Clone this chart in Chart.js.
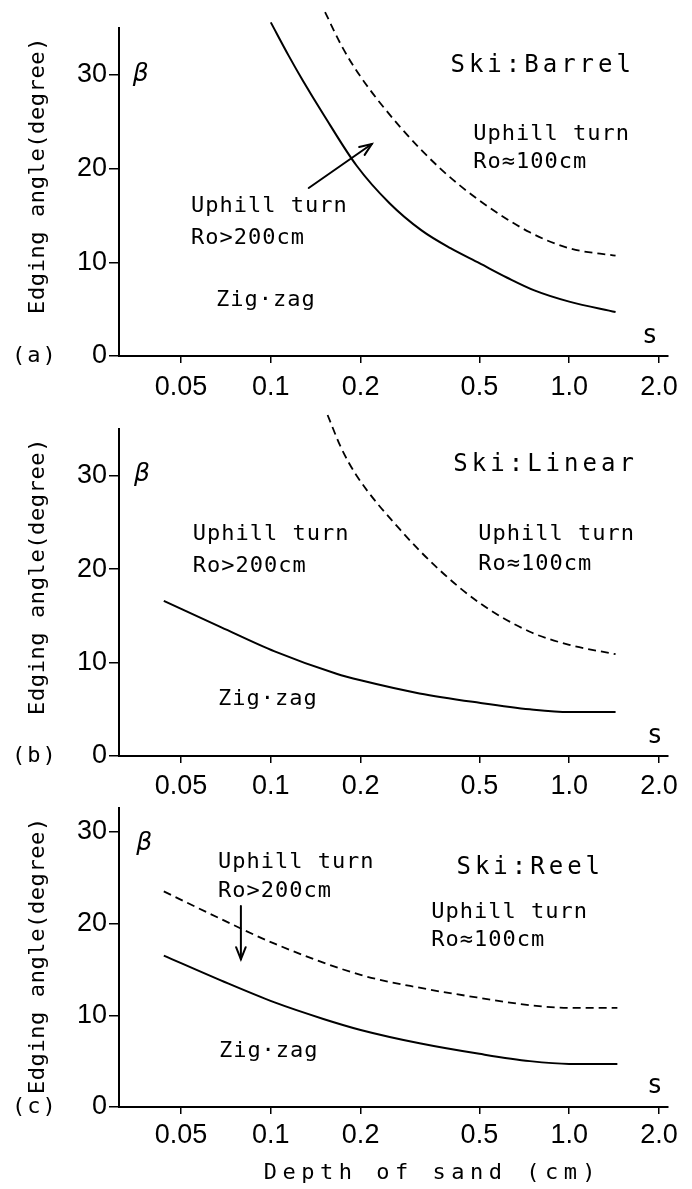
<!DOCTYPE html>
<html><head><meta charset="utf-8">
<script src="https://cdn.jsdelivr.net/npm/chart.js@4"></script>
<style>
html,body{margin:0;padding:0;background:#fff;}
#wrap{position:relative;width:692px;height:1189px;overflow:hidden;background:#fff;}
canvas{position:absolute;left:0;}
</style></head><body>
<div id="wrap">
<canvas id="ca" width="692" height="420" style="top:0px"></canvas>
<canvas id="cb" width="692" height="420" style="top:400px"></canvas>
<canvas id="cc" width="692" height="399" style="top:790px"></canvas>
</div>
<script>
// ---- tick labels ----
const xTicks = [0.05, 0.1, 0.2, 0.5, 1.0, 2.0];
const xTickLabels = ['0.05', '0.1', '0.2', '0.5', '1.0', '2.0'];
const yTicks = [0, 10, 20, 30];
const yTickLabels = ['0', '10', '20', '30'];

// ---- (a) Ski: Barrel ----
const barrelSolidS = [0.1, 0.115, 0.128, 0.15, 0.194, 0.25, 0.32, 0.4, 0.5, 0.62, 0.764, 1.0, 1.43];
const barrelSolidB = [35.6, 32.0, 29.4, 25.8, 20.3, 16.3, 13.4, 11.5, 9.9, 8.35, 7.0, 5.8, 4.7];
const barrelDashS  = [0.152, 0.172, 0.198, 0.272, 0.37, 0.5, 0.738, 1.0, 1.43];
const barrelDashB  = [36.7, 33.2, 30.0, 24.4, 20.0, 16.6, 13.2, 11.5, 10.7];

// ---- (b) Ski: Linear ----
const linearSolidS = [0.0438, 0.068, 0.103, 0.166, 0.2, 0.315, 0.5, 0.738, 1.0, 1.43];
const linearSolidB = [16.6, 13.8, 11.2, 8.8, 8.1, 6.7, 5.7, 5.0, 4.7, 4.7];
const linearDashS  = [0.155, 0.172, 0.194, 0.27, 0.365, 0.5, 0.738, 1.0, 1.43];
const linearDashB  = [36.5, 33.0, 30.0, 24.3, 20.0, 16.4, 13.3, 11.9, 10.9];

// ---- (c) Ski: Reel ----
const reelSolidS = [0.0438, 0.068, 0.103, 0.15, 0.2, 0.315, 0.5, 0.738, 1.0, 1.45];
const reelSolidB = [16.5, 13.8, 11.4, 9.6, 8.4, 6.95, 5.8, 5.0, 4.7, 4.7];
const reelDashS  = [0.0438, 0.068, 0.103, 0.2, 0.315, 0.5, 0.738, 1.0, 1.45];
const reelDashB  = [23.5, 20.5, 17.8, 14.4, 13.0, 11.9, 11.1, 10.8, 10.8];

const yTitle = 'Edging angle(degree)';
const xTitle = 'Depth of sand (cm)';

const MONO = '"DejaVu Sans Mono", "Liberation Mono", monospace';
const TICKFONT = { family: '"Liberation Sans", Arial, sans-serif', size: 27 };

function pts(xs, ys) { return xs.map((x, i) => ({ x: x, y: ys[i] })); }

function makeAnnotator(p) {
  return {
    id: 'ann_' + p.id,
    afterDraw(chart) {
      const ctx = chart.ctx, xs = chart.scales.x, ys = chart.scales.y, a = chart.chartArea;
      const X = v => xs.getPixelForValue(v), Y = v => ys.getPixelForValue(v);
      ctx.save();
      ctx.fillStyle = '#000'; ctx.strokeStyle = '#000';
      function txt(t, x, y, font, ls, align, base) {
        ctx.font = font;
        if ('letterSpacing' in ctx) ctx.letterSpacing = ls + 'px';
        ctx.textAlign = align || 'left';
        ctx.textBaseline = base || 'alphabetic';
        ctx.fillText(t, x, y);
      }
      // y-axis title (rotated)
      ctx.save();
      ctx.translate(38, a.top + 9);
      ctx.rotate(-Math.PI / 2);
      txt(yTitle, 0, 0, '22px ' + MONO, 0.6, 'right', 'middle');
      ctx.restore();
      // panel tag
      txt(p.tag, 12, Y(0), '22px ' + MONO, 2, 'left', 'middle');
      // beta and s
      txt('\u03B2', X(p.beta[0]), Y(p.beta[1]), 'italic 25px "DejaVu Sans", sans-serif', 0, 'left');
      txt('s', X(p.sPos[0]), Y(p.sPos[1]), '26px ' + MONO, 0, 'left');
      // ski title
      txt(p.title[0], X(p.title[1]), Y(p.title[2]), '24px ' + MONO, 4, 'left');
      // region labels
      p.texts.forEach(t => txt(t[0], X(t[1]), Y(t[2]), '22px ' + MONO, 1, 'left'));
      // arrows
      ctx.lineWidth = 2; ctx.lineCap = 'round';
      p.arrows.forEach(ar => {
        const x1 = X(ar[0]), y1 = Y(ar[1]), x2 = X(ar[2]), y2 = Y(ar[3]);
        ctx.beginPath(); ctx.moveTo(x1, y1); ctx.lineTo(x2, y2); ctx.stroke();
        const ang = Math.atan2(y2 - y1, x2 - x1), L = 13, w = 0.38;
        ctx.beginPath();
        ctx.moveTo(x2 - L * Math.cos(ang - w), y2 - L * Math.sin(ang - w));
        ctx.lineTo(x2, y2);
        ctx.lineTo(x2 - L * Math.cos(ang + w), y2 - L * Math.sin(ang + w));
        ctx.stroke();
      });
      if (p.xTitle) txt(xTitle, X(0.348), a.bottom + 72, '22px ' + MONO, 5.5, 'center');
      ctx.restore();
    }
  };
}

function build(p) {
  const lineBase = { borderColor: '#000', pointRadius: 0, fill: false, cubicInterpolationMode: 'monotone', clip: false };
  new Chart(document.getElementById(p.id), {
    type: 'line',
    data: {
      datasets: [
        Object.assign({ data: pts(p.solid[0], p.solid[1]), borderWidth: 2 }, lineBase),
        Object.assign({ data: pts(p.dash[0], p.dash[1]), borderWidth: 1.8, borderDash: [8, 5] }, lineBase)
      ]
    },
    options: {
      responsive: false, animation: false, devicePixelRatio: 1,
      layout: { padding: { top: p.top, left: 0, right: 24, bottom: 0 } },
      plugins: { legend: { display: false }, tooltip: { enabled: false } },
      scales: {
        x: {
          type: 'logarithmic', min: 0.031, max: 2.143,
          afterBuildTicks: s => { s.ticks = xTicks.map(v => ({ value: v })); },
          afterFit: s => { s.height = p.height - p.top - p.areaH; },
          ticks: { font: TICKFONT, color: '#000', padding: p.xPad, maxRotation: 0, autoSkip: false,
                   callback: v => { const i = xTicks.indexOf(v); return i >= 0 ? xTickLabels[i] : ''; } },
          grid: { drawOnChartArea: false, drawTicks: true, tickLength: 7, color: '#000', lineWidth: 1.5 },
          border: { display: true, color: '#000', width: 2 }
        },
        y: {
          type: 'linear', min: 0, max: p.yMax,
          afterBuildTicks: s => { s.ticks = yTicks.map(v => ({ value: v })); },
          afterFit: s => { s.width = 119; },
          ticks: { font: TICKFONT, color: '#000', padding: 2,
                   callback: v => { const i = yTicks.indexOf(v); return i >= 0 ? yTickLabels[i] : ''; } },
          grid: { drawOnChartArea: false, drawTicks: true, tickLength: 10, color: '#000', lineWidth: 1.5 },
          border: { display: true, color: '#000', width: 2 }
        }
      }
    },
    plugins: [makeAnnotator(p)]
  });
}

build({
  id: 'ca', height: 420, top: 28, areaH: 328, yMax: 35, xPad: 8, tag: '(a)',
  solid: [barrelSolidS, barrelSolidB], dash: [barrelDashS, barrelDashB],
  beta: [0.0345, 29.35], sPos: [1.755, 1.39],
  title: ['Ski:Barrel', 0.400, 30.3],
  texts: [['Uphill turn', 0.477, 23.05], ['Ro\u2248100cm', 0.477, 20.06],
          ['Uphill turn', 0.054, 15.37], ['Ro>200cm', 0.054, 11.95],
          ['Zig\u00B7zag', 0.0655, 5.34]],
  arrows: [[0.134, 17.93, 0.218, 22.62]]
});
build({
  id: 'cb', height: 420, top: 29, areaH: 327, yMax: 35, xPad: 7, tag: '(b)',
  solid: [linearSolidS, linearSolidB], dash: [linearDashS, linearDashB],
  beta: [0.0348, 29.4], sPos: [1.824, 1.39],
  title: ['Ski:Linear', 0.409, 30.5],
  texts: [['Uphill turn', 0.0548, 23.1], ['Ro>200cm', 0.0548, 19.7],
          ['Uphill turn', 0.496, 23.1], ['Ro\u2248100cm', 0.496, 19.9],
          ['Zig\u00B7zag', 0.0665, 5.46]],
  arrows: []
});
build({
  id: 'cc', height: 399, top: 13, areaH: 304, yMax: 32.57, xPad: 5, tag: '(c)', xTitle: true,
  solid: [reelSolidS, reelSolidB], dash: [reelDashS, reelDashB],
  beta: [0.0354, 28.0], sPos: [1.824, 1.5],
  title: ['Ski:Reel', 0.419, 25.4],
  texts: [['Uphill turn', 0.0665, 26.0], ['Ro>200cm', 0.0665, 22.9],
          ['Uphill turn', 0.345, 20.6], ['Ro\u2248100cm', 0.345, 17.6],
          ['Zig\u00B7zag', 0.067, 5.47]],
  arrows: [[0.0794, 21.9, 0.0794, 16.1]]
});
</script>
</body></html>
